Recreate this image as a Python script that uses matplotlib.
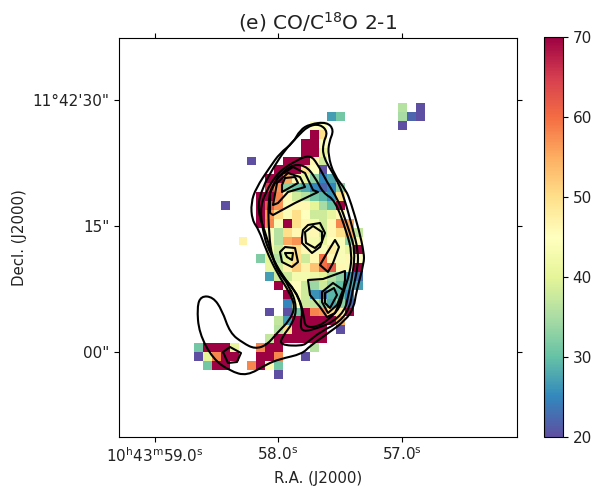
import numpy as np
import matplotlib
matplotlib.use("Agg")
import matplotlib.pyplot as plt
from matplotlib.path import Path
from matplotlib.patches import PathPatch

_ = None
# (row, first column, ratio values)
ratio_rows = [
    (7, 31, [36, _, 20]), (8, 23, [27, 31]), (8, 31, [35, 22, 20]),
    (9, 21, [45, 45]), (9, 31, [20]),
    (10, 21, [70, 50]), (11, 20, [70, 70, 45]), (12, 20, [70, 70, 41]),
    (13, 14, [20]), (13, 18, [70, 70, 70, 46, 38]),
    (14, 17, [70, 70, 70, 50, 45, 20]),
    (15, 16, [70, 70, 55, 46, 41, 33, 25, 28]),
    (16, 16, [65, 57, 33, 30, 28, 25, 22, 25, 33]),
    (17, 15, [70, 70, 58, 46, 38, 36, 31, 29, 26, 50]),
    (18, 11, [20]), (18, 15, [70, 62, 57, 44, 46, 46, 40, 35, 30, 70]),
    (19, 15, [70, 57, 50, 44, 50, 45, 38, 38, 41, 46]),
    (20, 15, [70, 58, 44, 70, 50, 46, 43, 38, 46, 58, 55]),
    (21, 16, [44, 36, 50, 46, 44, 46, 38, 46, 50, 55, 37]),
    (22, 13, [47]), (22, 16, [46, 36, 55, 57, 46, 43, 41, 45, 44, 33, 46]),
    (23, 16, [43, 38, 44, 50, 46, 44, 44, 48, 44, 41, 70]),
    (24, 15, [32, 40, 36, 40, 50, 38, 46, 60, 46, 44, 46, 45]),
    (25, 16, [41, 38, 47, 52, 47, 53, 60, 62, 46, 44, 70]),
    (26, 16, [27, 38, 38, 43, 43, 42, 40, 36, 33, 27, 23]),
    (27, 17, [70, 46, 45, 38, 34, 38, 34, 30, 28, 27]),
    (28, 18, [70, 44, 38, 26, 24, 29, 29, 25]),
    (29, 18, [25, 45, 38, 37, 33, 28, 33, 22]),
    (30, 16, [20]), (30, 18, [20, 31, 70, 58, 57, 50, 48, 70]),
    (31, 17, [37, 27, 70, 70, 70, 70, 70, 55]),
    (32, 17, [36, 50, 70, 70, 70, 70]), (32, 24, [20]),
    (33, 16, [37, 70, 70, 70, 70, 70, 70]),
    (34, 8, [31, 70, 70, 70, 41]), (34, 15, [58, 70, 70, _, _, _, 36]),
    (35, 8, [20, 40, 58, 70, 70]), (35, 15, [70, 70, 58]), (35, 20, [20]),
    (36, 9, [31, 70, 70]), (36, 14, [58, 70, 46, 31]),
    (37, 17, [20]),
]

# contour outlines in map units
contour_outer = [(327, 122), (334, 130), (329, 142), (328, 155), (334, 175), (346, 190), (351, 203),
                 (359, 230), (364, 253), (364, 263), (356, 293), (354, 307), (346, 320), (327, 334),
                 (310, 346), (302, 354), (280, 359), (267, 364), (247, 376), (230, 371), (213, 359),
                 (199, 333), (197, 307), (201, 296), (213, 297), (222, 310), (230, 333), (243, 343),
                 (255, 349), (267, 345), (277, 333), (290, 320), (295, 307), (290, 293), (277, 273),
                 (266, 250), (259, 230), (252, 220), (251, 203), (256, 188), (270, 167), (280, 153),
                 (293, 143), (300, 130), (310, 124)]
contour_2 = [(297, 137), (308, 126), (320, 124), (328, 132), (323, 143), (323, 157), (337, 180), (344, 197),
             (353, 230), (358, 250), (358, 267), (352, 293), (350, 307), (340, 322), (320, 332), (308, 342),
             (302, 346), (280, 345), (282, 337), (293, 323), (297, 307), (290, 287), (275, 267), (267, 237),
             (257, 210), (262, 188), (275, 165), (285, 150)]
contour_3 = [(327, 182), (338, 200), (343, 213), (350, 233), (355, 250), (353, 273), (348, 297), (345, 310),
             (333, 322), (318, 328), (303, 332), (300, 325), (303, 310), (295, 290), (283, 277), (270, 253),
             (264, 237), (260, 210), (265, 193), (278, 172), (297, 160), (310, 155), (317, 163)]
contour_4 = [(268, 200), (273, 183), (290, 165), (305, 165), (315, 177), (323, 193), (335, 200), (347, 233),
             (352, 253), (350, 273), (343, 293), (340, 308), (328, 320), (317, 327), (305, 327), (304, 316),
             (299, 297), (290, 285), (280, 273), (272, 257), (269, 235)]
south_lobe_1 = [(345, 271), (323, 279), (308, 280), (310, 295), (320, 307), (327, 317), (335, 313), (342, 297),
                (345, 280)]
south_lobe_2 = [(322, 292), (333, 283), (343, 290), (337, 305), (328, 313), (322, 302)]
south_lobe_3 = [(325, 293), (334, 288), (337, 295), (330, 308), (325, 303)]
north_lobe_1 = [(282, 185), (285, 178), (295, 177), (298, 183), (282, 192)]
north_lobe_2 = [(273, 205), (277, 183), (288, 173), (300, 177), (305, 187), (288, 192), (278, 203)]
north_lobe_3 = [(270, 213), (270, 193), (278, 177), (293, 167), (305, 173), (313, 190), (318, 192), (295, 203),
                (273, 215)]
centre_1 = [(305, 232), (313, 226), (322, 232), (322, 242), (315, 248), (306, 243)]
centre_2 = [(302, 237), (303, 230), (308, 225), (320, 223), (325, 233), (320, 247), (312, 253), (302, 243)]
east_knot = [(327, 253), (335, 240), (339, 247), (333, 263), (328, 272), (320, 265)]
west_knot_1 = [(285, 253), (293, 253), (292, 260), (287, 257)]
west_knot_2 = [(280, 252), (285, 247), (295, 248), (298, 262), (292, 267), (282, 262)]
tail_knot = [(223, 352), (230, 347), (241, 353), (237, 362), (228, 363)]
smooth_contours = [contour_outer, contour_2, contour_3, contour_4]
angular_contours = [south_lobe_1, south_lobe_2, south_lobe_3, north_lobe_1, north_lobe_2, north_lobe_3,
                    centre_1, centre_2, east_knot, west_knot_1, west_knot_2, tail_knot]

ra_ticks = [155, 278, 402]
ra_labels = [r"10$^{\mathrm{h}}$43$^{\mathrm{m}}$59.0$^{\mathrm{s}}$", r"58.0$^{\mathrm{s}}$", r"57.0$^{\mathrm{s}}$"]
dec_ticks = [100, 226, 352]
dec_labels = ["11°42'30\"", "15\"", "00\""]

cell = 8.865
n = 46
grid = np.full((n, n), np.nan)
for r, c0, vals in ratio_rows:
    for i, v in enumerate(vals):
        if v is not None:
            grid[r, c0 + i] = v


def rounded_path(points):
    """Closed path of quadratic Beziers through edge midpoints, with the read points as controls."""
    p = np.asarray(points, dtype=float)
    q = np.roll(p, -1, axis=0)
    mid = (p + q) / 2
    verts, codes = [mid[-1]], [Path.MOVETO]
    for ctrl, end in zip(p, mid):
        verts += [ctrl, end]
        codes += [Path.CURVE3, Path.CURVE3]
    return Path(verts, codes)


fig = plt.figure(figsize=(5.97, 4.88), dpi=100)
ax = fig.add_axes([119 / 597, 1 - 437 / 488, 398 / 597, 399 / 488])
x0 = 119 + 0.45 * cell
y0 = 38 + 0.45 * cell
im = ax.imshow(grid, cmap="Spectral_r", vmin=20, vmax=70, interpolation="nearest", aspect="auto",
               extent=[x0, x0 + n * cell, y0 + n * cell, y0])
for path in smooth_contours:
    ax.add_patch(PathPatch(rounded_path(path), fc="none", ec="k", lw=1.5))
for path in angular_contours:
    ax.add_patch(plt.Polygon(path, closed=True, fc="none", ec="k", lw=1.5, joinstyle="round"))
ax.set_xlim(119, 517)
ax.set_ylim(437, 38)
ax.set_xticks(ra_ticks, ra_labels)
ax.set_yticks(dec_ticks, dec_labels)
ax.tick_params(top=True, right=True, direction="out", labelsize=11, labelcolor="#222222")
ax.set_xlabel("R.A. (J2000)", fontsize=10.8, color="#222222")
ax.set_ylabel("Decl. (J2000)", fontsize=10.8, color="#222222")
ax.set_title("(e) CO/C$^{18}$O 2-1", fontsize=14.5, pad=6, color="#222222")

cax = fig.add_axes([544 / 597, 1 - 437 / 488, 19 / 597, 400 / 488])
cb = fig.colorbar(im, cax=cax)
cb.set_ticks([20, 30, 40, 50, 60, 70])
cb.ax.tick_params(labelsize=11, labelcolor="#222222")

fig.savefig("out.png", dpi=100)
